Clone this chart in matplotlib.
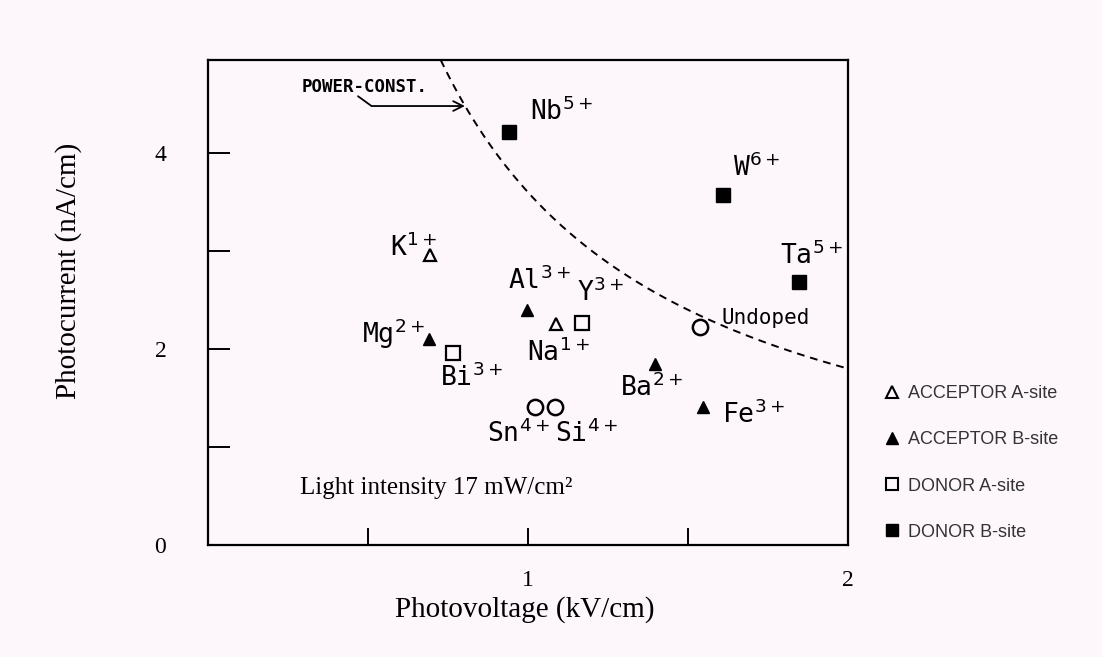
import numpy as np
import matplotlib
matplotlib.use("Agg")
import matplotlib.pyplot as plt
from matplotlib.lines import Line2D

# photovoltage (kV/cm) and photocurrent (nA/cm) for each dopant group
acc_a_names = ["K$^{1+}$", "Na$^{1+}$"]
acc_a_v = [0.694, 1.088]
acc_a_i = [2.96, 2.255]

acc_b_names = ["Al$^{3+}$", "Mg$^{2+}$", "Ba$^{2+}$", "Fe$^{3+}$"]
acc_b_v = [0.997, 0.690, 1.397, 1.547]
acc_b_i = [2.40, 2.10, 1.85, 1.41]

don_a_names = ["Y$^{3+}$", "Bi$^{3+}$"]
don_a_v = [1.170, 0.766]
don_a_i = [2.27, 1.96]

don_b_names = ["Nb$^{5+}$", "W$^{6+}$", "Ta$^{5+}$"]
don_b_v = [0.940, 1.610, 1.847]
don_b_i = [4.22, 3.57, 2.68]

other_names = ["Sn$^{4+}$", "Si$^{4+}$", "Undoped"]
other_v = [1.022, 1.084, 1.5375]
other_i = [1.41, 1.41, 2.22]

power_const = 3.6   # V * I along the dashed curve

legend_labels = ["ACCEPTOR A-site", "ACCEPTOR B-site", "DONOR A-site", "DONOR B-site"]

# where each dopant name is written (left edge, vertical centre)
label_pos = {
    "K$^{1+}$": (0.569, 3.03), "Na$^{1+}$": (0.997, 1.96),
    "Al$^{3+}$": (0.9375, 2.70), "Mg$^{2+}$": (0.480, 2.16),
    "Ba$^{2+}$": (1.2875, 1.60), "Fe$^{3+}$": (1.606, 1.33),
    "Y$^{3+}$": (1.153, 2.57), "Bi$^{3+}$": (0.725, 1.71),
    "Nb$^{5+}$": (1.006, 4.42), "W$^{6+}$": (1.640, 3.85), "Ta$^{5+}$": (1.7875, 2.95),
    "Sn$^{4+}$": (0.872, 1.14), "Si$^{4+}$": (1.084, 1.14), "Undoped": (1.606, 2.32),
}

bg = "#fdf6fb"
serif = ["Liberation Serif", "DejaVu Serif"]
mono = ["DejaVu Sans Mono", "DejaVu Sans"]
plt.rcParams["mathtext.fontset"] = "dejavusans"

fig = plt.figure(figsize=(11.02, 6.57), dpi=100, facecolor=bg)
ax = fig.add_axes([0.1887, 0.1705, 0.5808, 0.7382], facecolor=bg)

ax.set_xlim(0, 2)
ax.set_ylim(0, 4.95)

# constant power hyperbola
vv = np.linspace(power_const / 4.95, 2.0, 300)
ax.plot(vv, power_const / vv, color="black", lw=1.4, ls=(0, (4, 3)))

ax.plot(acc_a_v, acc_a_i, ls="none", marker="^", ms=9,
        mfc="none", mec="black", mew=1.6)
ax.plot(acc_b_v, acc_b_i, ls="none", marker="^", ms=9,
        mfc="black", mec="black")
ax.plot(don_a_v, don_a_i, ls="none", marker="s", ms=9.5,
        mfc="none", mec="black", mew=1.6)
ax.plot(don_b_v, don_b_i, ls="none", marker="s", ms=10.5,
        mfc="black", mec="black")
ax.plot(other_v, other_i, ls="none", marker="o", ms=11,
        mfc="none", mec="black", mew=1.8)

for name in acc_a_names + acc_b_names + don_a_names + don_b_names + other_names:
    x, y = label_pos[name]
    size = 15 if name == "Undoped" else 19
    ax.text(x, y, name, family=mono, fontsize=size, ha="left", va="center")

# power-constant note with bent arrow
ax.text(0.49, 4.67, "POWER-CONST.", family=mono, fontsize=12.5, fontweight="bold",
        ha="center", va="center")
ax.annotate("", xy=(0.803, 4.48), xytext=(0.469, 4.58),
            arrowprops=dict(arrowstyle="->,head_length=0.7,head_width=0.35",
                            connectionstyle="angle,angleA=-36,angleB=0,rad=0",
                            color="black", lw=1.3, shrinkA=0, shrinkB=0))

ax.text(0.2875, 0.58, "Light intensity 17 mW/cm²", family=serif, fontsize=18,
        ha="left", va="center")

for s in ax.spines.values():
    s.set_linewidth(1.6)

ax.set_xticks([0.5, 1, 1.5, 2])
ax.set_xticklabels(["", "1", "", "2"], family=serif, fontsize=17)
ax.set_yticks([0, 1, 2, 3, 4])
ax.set_yticklabels(["0", "", "2", "", "4"], family=serif, fontsize=17)
ax.tick_params(axis="x", direction="in", length=12, width=1.4, pad=18)
ax.tick_params(axis="y", direction="in", length=16, width=1.4, pad=30)

ax.set_xlabel("Photovoltage (kV/cm)", family=serif, fontsize=21)
ax.set_ylabel("Photocurrent (nA/cm)", family=serif, fontsize=21)
ax.xaxis.set_label_coords(0.495, -0.105)
ax.yaxis.set_label_coords(-0.197, 0.565)

leg_handles = [
    Line2D([], [], ls="none", marker="^", ms=8.5, mfc="none", mec="black", mew=1.5),
    Line2D([], [], ls="none", marker="^", ms=8.5, mfc="black", mec="black"),
    Line2D([], [], ls="none", marker="s", ms=8, mfc="none", mec="black", mew=1.5),
    Line2D([], [], ls="none", marker="s", ms=8, mfc="black", mec="black"),
]
fig.legend(leg_handles, legend_labels, loc="upper left", bbox_to_anchor=(0.801, 0.414),
           frameon=False, prop={"family": ["Liberation Sans", "DejaVu Sans"], "size": 13},
           labelcolor="#333333", handlelength=1.0, handletextpad=0.4,
           labelspacing=1.62, borderpad=0, borderaxespad=0)

fig.savefig("out.png", dpi=100, facecolor=bg)
